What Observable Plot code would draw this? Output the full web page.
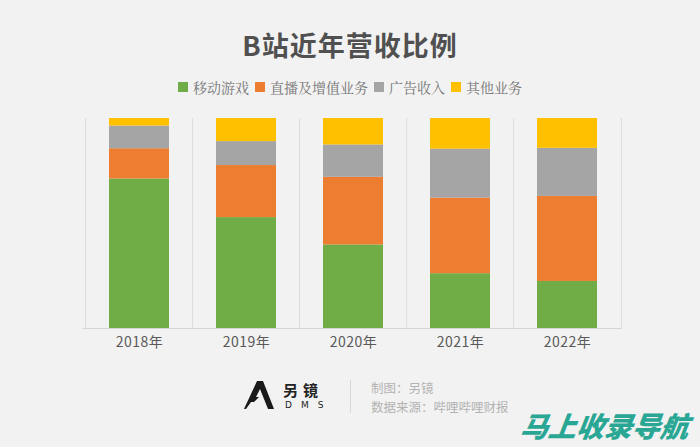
<!DOCTYPE html>
<html>
<head>
<meta charset="utf-8">
<script src="https://cdn.jsdelivr.net/npm/d3@7"></script>
<script src="https://cdn.jsdelivr.net/npm/@observablehq/plot@0.6"></script>
<style>
  html, body { margin: 0; padding: 0; background: #f2f2f2; }
  #wrap { position: relative; width: 700px; height: 447px; overflow: hidden; background: #f2f2f2;
          font-family: "Noto Sans CJK SC", "Noto Sans", sans-serif; }
  #title { position: absolute; top: 25px; left: 0; width: 700px; text-align: center;
           font-size: 27px; font-weight: 700; color: #505050; letter-spacing: 1px; }
  #legend { position: absolute; top: 77px; left: 0; width: 700px; display: flex; justify-content: center;
            gap: 6px; font-size: 14px; color: #777; font-family: "Noto Serif CJK SC", "Noto Sans CJK SC", serif; }
  #legend span.item { display: inline-flex; align-items: center; }
  #legend i { display: inline-block; width: 10px; height: 10px; margin-right: 5px; }
  #chart { position: absolute; top: 100px; left: 0; }
  #logo { position: absolute; left: 244px; top: 381px; }
  #brand { position: absolute; left: 283px; top: 381px; font-size: 15px; line-height: 17px; font-weight: 700; color: #222; letter-spacing: 5px; }
  #dms { position: absolute; left: 285px; top: 400px; font-size: 9px; line-height: 10px; color: #222; letter-spacing: 9px; font-family: "DejaVu Sans", sans-serif; }
  #divider { position: absolute; left: 350px; top: 380px; width: 1px; height: 33px; background: #d8d8d8; }
  #credit { position: absolute; left: 371px; top: 378px; font-size: 12.5px; line-height: 19px; color: #b3b3b3; }
  #watermark { position: absolute; left: 521px; top: 405px; font-size: 28px; font-weight: 900; font-style: italic;
               color: #2aa794; letter-spacing: 0px; transform: skewX(-8deg); }
</style>
</head>
<body>
<div id="wrap">
  <div id="title">B站近年营收比例</div>
  <div id="legend"></div>
  <div id="chart"></div>
  <svg id="logo" width="30" height="30" viewBox="0 0 30 30">
    <polygon points="13,0 19,0 30,28 24,28 16,8 12,16 15,16 10,21 7,21 2,28 0,28" fill="#1a1a1a"/>
  </svg>
  <div id="brand">另镜</div>
  <div id="dms">DMS</div>
  <div id="divider"></div>
  <div id="credit">制图：另镜<br>数据来源：哔哩哔哩财报</div>
  <div id="watermark">马上收录导航</div>
</div>
<script>
const years = ["2018", "2019", "2020", "2021", "2022"];
const seriesNames = ["移动游戏", "直播及增值业务", "广告收入", "其他业务"];
const seriesColors = ["#70ad47", "#ed7d31", "#a5a5a5", "#ffc000"];
const mobileGames = [71.2, 52.8, 39.8, 26.1, 22.4];
const liveVas = [14.4, 24.8, 32.2, 36.0, 40.5];
const advertising = [10.8, 11.4, 15.4, 23.3, 22.9];
const others = [3.6, 11.0, 12.6, 14.6, 14.2];

const seriesValues = [mobileGames, liveVas, advertising, others];
const data = [];
years.forEach((y, i) => {
  seriesNames.forEach((s, j) => data.push({year: y, series: s, value: seriesValues[j][i]}));
});

// legend
const legend = document.getElementById("legend");
seriesNames.forEach((s, j) => {
  const item = document.createElement("span");
  item.className = "item";
  item.innerHTML = `<i style="background:${seriesColors[j]}"></i>${s}`;
  legend.appendChild(item);
});

const width = 700, height = 262;
const marginLeft = 83, marginRight = 78, marginTop = 18, marginBottom = 34;
const step = (width - marginLeft - marginRight) / years.length;

const chart = Plot.plot({
  width, height, marginLeft, marginRight, marginTop, marginBottom,
  style: {background: "transparent", fontFamily: "'Noto Sans CJK SC', sans-serif"},
  x: {domain: years, paddingInner: 0.44, paddingOuter: 0.22, label: null},
  y: {domain: [0, 1], axis: null},
  color: {domain: seriesNames, range: seriesColors},
  marks: [
    Plot.ruleX(years, {x: d => d, dx: -step / 2, y1: 0, y2: 1, stroke: "#dcdcdc", strokeWidth: 1}),
    Plot.ruleX(years.slice(-1), {x: d => d, dx: step / 2, y1: 0, y2: 1, stroke: "#dcdcdc", strokeWidth: 1}),
    Plot.barY(data, Plot.stackY({offset: "normalize", order: null}, {x: "year", y: "value", fill: "series", inset: 0})),
    Plot.ruleY([0], {stroke: "#d4d4d4"}),
    Plot.axisX({tickSize: 0, tickPadding: 9, tickFormat: d => d + "年", fontSize: 14, fill: "#595959", label: null})
  ]
});
chart.querySelectorAll("g[aria-label='x-axis tick label'] text").forEach(t => t.setAttribute("letter-spacing", "0.5"));
document.getElementById("chart").appendChild(chart);
</script>
</body>
</html>
